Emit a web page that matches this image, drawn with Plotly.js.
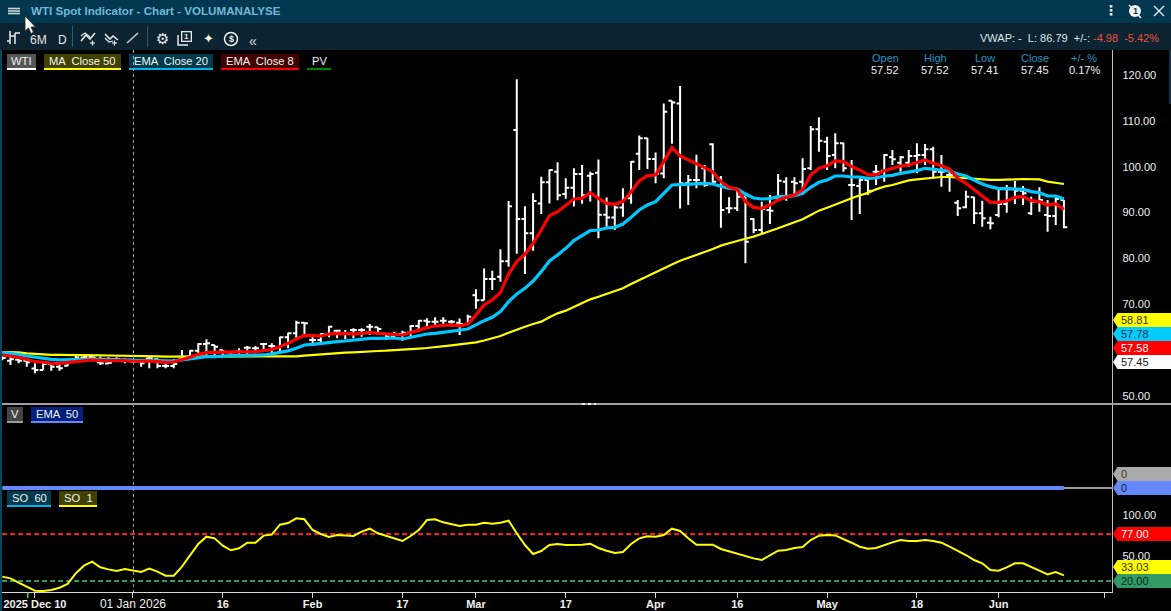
<!DOCTYPE html>
<html><head><meta charset="utf-8">
<script src="https://cdn.plot.ly/plotly-3.0.1.min.js"></script>
<style>html,body{margin:0;padding:0;background:#000;overflow:hidden}#c{width:1171px;height:611px}</style>
</head><body><div id="c"></div>
<script>
const open_=[58.5,57.7,57.9,57.71,56.0,55.7,56.98,56.4,56.6,57.9,
58.4,58.5,57.3,57.1,58.0,57.8,57.52,57.5,58.2,58.0,
56.55,56.55,58.0,58.58,59.89,61.35,61.13,60.0,59.5,59.67,
60.55,60.4,61.35,60.9,60.5,62.8,63.67,66.0,62.22,62.2,
63.5,64.25,63.67,64.4,64.4,65.13,64.98,63.6,63.0,63.5,
63.82,65.27,66.43,66.22,66.4,66.2,66.0,65.5,72.0,70.9,
75.5,76.0,79.4,108.0,88.6,85.5,92.0,96.6,98.9,94.05,
95.4,98.4,98.05,98.7,89.5,88.9,91.1,93.1,102.8,106.2,
101.7,98.5,114.4,113.8,96.4,97.1,99.65,104.88,97.47,90.93,
90.93,93.47,88.6,86.2,90.56,93.11,96.74,96.74,96.74,99.65,
108.15,105.46,102.56,105.1,96.0,95.8,97.11,98.92,99.14,102.05,
100.88,100.88,102.34,102.56,103.79,98.92,98.2,92.16,91.14,93.33,
89.84,87.8,89.47,91.87,95.07,94.78,89.84,92.38,89.47,89.26,92.74];
const high=[58.8,58.58,58.22,58.22,57.13,57.13,57.13,57.13,57.64,58.73,
58.73,58.73,58.58,58.44,58.44,58.22,57.52,57.86,58.58,58.22,
57.49,58.0,60.04,60.04,61.49,62.36,61.13,60.04,59.67,60.4,
60.91,60.91,61.49,61.49,62.95,63.82,66.43,66.0,62.95,63.67,
65.34,64.4,64.4,64.76,64.76,65.71,64.98,63.67,64.04,64.25,
65.49,66.58,66.94,67.16,67.16,66.6,66.9,67.7,73.3,77.8,
77.3,82.0,92.5,119.05,91.4,94.2,97.8,99.4,101.0,97.5,
99.65,100.4,98.9,101.6,93.3,91.65,95.3,101.25,106.8,106.3,
103.1,113.8,114.4,117.6,98.2,102.6,100.38,105.1,97.98,93.33,
95.29,93.47,88.75,92.38,93.83,98.41,97.69,97.69,101.83,108.88,
110.77,106.55,107.28,105.25,101.47,97.47,97.47,100.38,102.77,103.65,
102.34,103.65,105.1,104.96,104.37,102.56,99.29,92.74,94.78,93.47,
92.6,89.11,95.29,96.01,96.89,95.8,93.47,95.51,92.74,93.33,92.74];
const low=[57.8,56.77,57.13,56.4,54.95,55.68,55.53,55.53,56.5,57.86,
58.2,58.0,56.77,57.0,57.49,57.13,57.41,56.4,56.04,56.04,
56.04,56.04,57.86,58.0,58.58,58.95,58.58,58.58,58.44,58.58,
58.95,59.31,59.67,59.31,59.67,60.4,62.58,62.95,61.49,61.49,
62.8,62.58,62.36,62.58,62.95,63.31,63.31,62.22,62.58,62.07,
62.58,64.04,65.13,65.13,65.5,65.1,63.3,65.5,69.05,70.9,
73.1,74.9,78.2,81.0,76.6,81.7,89.7,92.0,92.7,93.0,
91.3,91.9,92.4,84.4,86.9,86.2,89.1,91.9,99.3,99.5,
96.4,97.5,105.0,90.9,91.65,95.3,95.65,96.38,86.71,89.84,
90.35,78.93,85.47,85.47,87.51,92.6,92.6,93.47,93.83,99.29,
103.28,99.29,99.65,98.92,88.38,89.69,93.83,96.01,96.74,100.38,
98.92,100.01,98.56,100.38,97.47,95.65,94.56,89.26,90.93,87.51,
86.93,86.35,88.96,89.98,91.87,91.65,89.47,90.2,85.84,87.29,86.57];
const close_=[58.3,58.0,57.71,57.35,55.68,56.98,56.4,56.04,57.4,58.4,
58.5,58.4,57.13,57.27,58.0,57.8,57.45,57.13,58.22,56.55,
56.55,56.98,58.58,59.89,61.35,61.49,60.76,59.67,59.0,59.67,
60.55,60.4,61.35,60.91,62.8,63.67,66.0,65.85,62.22,63.53,
65.13,64.25,63.67,64.4,64.4,65.1,64.6,63.0,63.5,63.82,
65.27,66.43,66.22,66.22,66.4,66.2,65.7,67.3,70.9,75.5,
75.5,79.4,91.4,88.6,85.5,92.5,96.6,99.3,93.8,95.4,
98.4,93.8,98.4,89.5,88.9,91.1,93.1,101.1,106.2,101.7,
98.5,112.0,114.0,96.4,97.1,97.1,96.0,96.74,90.56,90.93,
93.47,83.66,86.2,90.78,90.42,96.96,93.47,96.38,99.5,108.15,
105.68,102.34,105.1,99.65,96.0,97.11,94.78,98.92,102.56,101.61,
102.05,102.34,102.56,103.79,98.92,98.92,98.2,90.93,93.47,89.84,
88.75,87.66,91.87,95.07,94.78,94.2,92.38,92.74,89.26,92.96,86.78];
const ma50=[59.6,59.6,59.53,59.31,59.16,59.09,58.95,58.95,58.9,58.9,
58.88,58.86,58.85,58.84,58.83,58.82,58.81,58.8,58.73,58.66,
58.58,58.58,58.58,58.58,58.58,58.58,58.58,58.58,58.58,58.58,
58.58,58.58,58.58,58.58,58.58,58.6,58.66,58.8,58.95,59.17,
59.24,59.31,59.46,59.53,59.67,59.75,59.82,59.89,59.96,60.04,
60.18,60.33,60.47,60.62,60.84,61.05,61.27,61.49,61.7,62.1,
62.58,63.09,63.81,64.54,65.12,65.7,66.21,67.16,68.03,68.61,
69.48,70.21,71.08,71.66,72.25,72.97,73.48,74.42,75.3,76.17,
77.0,77.8,78.7,79.5,80.17,80.9,81.4,82.06,82.79,83.3,
83.88,84.3,84.75,85.3,85.99,86.57,87.22,87.87,88.53,89.47,
90.42,91.07,91.8,92.38,93.11,93.76,94.3,95.07,95.65,96.01,
96.6,97.03,97.25,97.47,97.69,97.76,97.76,97.61,97.54,97.4,
97.18,97.11,97.11,97.11,97.25,97.32,97.32,97.25,96.74,96.45,96.23];
const ema20=[59.46,59.31,59.09,58.73,58.44,58.22,58.0,57.86,57.86,57.86,
58.0,58.07,58.0,58.0,57.9,57.85,57.78,57.78,57.78,57.75,
57.71,57.64,57.86,58.07,58.44,58.58,58.58,58.73,58.8,58.8,
58.8,58.8,58.95,59.2,59.45,59.85,60.4,61.13,61.27,61.49,
61.78,61.85,62.0,62.22,62.44,62.58,62.58,62.58,62.65,62.44,
62.8,63.31,63.53,63.67,63.89,64.04,64.25,64.62,65.5,66.43,
67.16,68.4,70.57,72.25,73.48,75.08,77.12,79.44,80.75,82.2,
83.88,84.89,86.06,86.2,86.64,86.78,87.51,88.96,90.56,91.65,
92.38,94.2,96.01,96.09,96.23,96.38,96.38,96.23,95.8,95.29,
95.14,94.05,93.18,92.96,93.04,93.47,93.47,93.69,94.2,95.51,
96.6,97.11,97.98,97.98,97.76,97.76,97.47,97.54,97.98,98.12,
98.56,98.78,99.14,99.65,99.43,99.29,99.07,98.41,97.98,97.11,
96.23,95.65,95.22,95.22,95.22,95.07,94.56,94.34,93.62,93.62,92.96];
const ema8=[58.95,58.73,58.44,58.0,57.49,57.42,57.13,57.13,57.27,57.49,
57.71,57.86,57.71,57.71,57.86,57.71,57.58,57.64,57.64,57.49,
57.35,57.42,57.86,58.44,59.09,59.46,59.53,59.53,59.53,59.53,
59.6,59.67,59.89,60.18,60.76,61.49,62.44,63.24,63.16,63.09,
63.53,63.67,63.6,63.53,63.67,63.82,63.67,63.6,63.45,63.31,
63.82,64.4,64.91,65.27,65.35,65.49,65.3,65.63,67.67,69.85,
70.94,72.54,76.6,79.3,80.9,83.3,86.2,89.33,90.2,91.65,
92.96,93.1,94.34,93.1,92.0,91.8,92.4,94.56,96.9,98.05,
98.2,101.1,104.15,102.34,101.47,100.74,99.79,98.92,96.74,95.51,
95.07,92.38,91.14,90.93,91.65,92.74,93.33,93.83,94.93,98.2,
99.65,100.23,101.25,101.1,100.01,99.29,98.2,98.2,99.14,99.65,
100.16,100.38,100.96,101.47,100.74,100.23,99.5,97.47,96.38,94.93,
93.47,92.24,92.24,92.53,93.33,93.47,92.6,92.38,91.65,91.87,90.71];
const so=[25.3,23.2,18.0,13.1,8.3,7.9,9.1,11.9,16.4,29.3,
38.6,43.4,36.6,34.1,32.1,34.5,33.03,30.9,35.0,31.3,
26.5,26.5,37.4,50.7,64.9,73.7,71.7,62.8,57.2,59.6,
66.5,66.5,75.0,76.2,88.3,90.3,96.0,94.8,81.8,77.0,
73.3,75.8,75.0,74.6,79.8,83.4,77.8,74.6,71.3,68.5,
74.5,81.8,93.9,94.7,91.1,88.7,86.6,88.3,88.3,90.7,
89.5,90.7,93.1,77.8,63.6,52.7,56.3,63.6,64.8,63.6,
63.6,64.0,65.2,60.0,56.7,53.9,55.1,64.8,71.7,74.1,
73.7,75.7,83.4,80.6,71.7,64.0,64.0,64.0,58.8,55.9,
53.5,49.9,47.4,45.4,51.5,56.7,57.6,60.0,61.2,69.7,
74.9,75.7,75.3,71.3,66.4,61.6,59.2,60.0,63.6,66.8,
69.7,68.5,68.5,69.7,68.5,66.4,61.6,56.7,51.5,45.4,
41.4,33.3,32.5,36.5,41.4,41.4,37.3,32.5,28.0,30.9,26.8];
const volEma=[0,0,0,0,0,0,0,0,0,0,0,0,0,0,0,0,0,0,0,0,0,0,0,0,0,0,0,0,0,0,0,0,0,0,0,0,0,0,0,0,0,0,0,0,0,0,0,0,0,0,0,0,0,0,0,0,0,0,0,0,0,0,0,0,0,0,0,0,0,0,0,0,0,0,0,0,0,0,0,0,0,0,0,0,0,0,0,0,0,0,0,0,0,0,0,0,0,0,0,0,0,0,0,0,0,0,0,0,0,0,0,0,0,0,0,0,0,0,0,0,0,0,0,0,0,0,0,0,0,0,0];
const tickIdx=[4,16,27,38,49,58,69,80,90,101,112,122,135];
const tickLbl=['<b>2025 Dec 10</b>','<span style="font-size:12px">01 Jan 2026</span>','<b>16</b>','<b>Feb</b>','<b>17</b>','<b>Mar</b>','<b>17</b>','<b>Apr</b>','<b>16</b>','<b>May</b>','<b>18</b>','<b>Jun</b>',''];
const priceTicks=[120,110,100,90,80,70,50];
const soTicks=[100,50];
const soHigh=77, soLow=20, crossIdx=16;

const W=1171,H=611;
const idx=open_.map((_,i)=>i);
const px=x=>x/W, py=y=>1-y/H;
const FONT='"Liberation Sans",Arial,sans-serif';
const shapes=[],ann=[];
function rect(x0,y0,x1,y1,c,layer){shapes.push({type:'rect',xref:'paper',yref:'paper',x0:px(x0),x1:px(x1),y0:py(y0),y1:py(y1),fillcolor:c,line:{width:0},layer:layer||'above'});}
function seg(x0,y0,x1,y1,c,w,dash){shapes.push({type:'line',xref:'paper',yref:'paper',x0:px(x0),x1:px(x1),y0:py(y0),y1:py(y1),line:{color:c,width:w,dash:dash||'solid'},layer:'above'});}
function poly(pts,fill,lc,lw,closed){let d=pts.map((p,i)=>(i?'L':'M')+px(p[0])+','+py(p[1])).join(' ')+(closed===false?'':' Z');
 shapes.push({type:'path',xref:'paper',yref:'paper',path:d,fillcolor:fill||'rgba(0,0,0,0)',line:{color:lc||'rgba(0,0,0,0)',width:lw||0},layer:'above'});}
function ring(cx,cy,r,fill,lc,lw){shapes.push({type:'circle',xref:'paper',yref:'paper',x0:px(cx-r),x1:px(cx+r),y0:py(cy+r),y1:py(cy-r),fillcolor:fill||'rgba(0,0,0,0)',line:{color:lc||'rgba(0,0,0,0)',width:lw||0},layer:'above'});}
function txt(x,y,t,c,sz,anchor,fam){ann.push({xref:'paper',yref:'paper',x:px(x),y:py(y),text:t,showarrow:false,xanchor:anchor||'left',yanchor:'middle',font:{family:fam||FONT,size:sz||12,color:c||'#fff'},borderpad:0,borderwidth:0});}

// window chrome
rect(0,0,W,23,'#02384f');
rect(0,23,W,50,'#0c2432');
rect(0,50,2,H,'#0b4560');
rect(1169,50,W,104,'#0c3044');
seg(8,8.5,20,8.5,'#c8d4da',1.6);seg(8,11,20,11,'#c8d4da',1.6);seg(8,13.5,20,13.5,'#c8d4da',1.6);
txt(31,10.5,'<b>WTI Spot Indicator - Chart - VOLUMANALYSE</b>','#6fb8da',11.6);
txt(1111,10.5,'<b>⋮</b>','#e8e8e8',14,'center','"DejaVu Sans"');
ring(1135,11,6,'#f0f0f0');
txt(1135,11,'<b>1</b>','#02384f',9,'center');
seg(1129,5,1141,18,'#f0f0f0',1.5);
seg(1154,6,1164,16,'#d8e4ea',1.4);seg(1164,6,1154,16,'#d8e4ea',1.4);
// toolbar
seg(10,31,10,44,'#e0e0e0',1.6);seg(7,41,10,41,'#e0e0e0',1.6);seg(15,33,15,44,'#e0e0e0',1.6);seg(15,33,20,33,'#e0e0e0',1.6);seg(10,36,15,36,'#e0e0e0',1.6);
txt(30,39.5,'6M','#e6e6e6',12);txt(57.5,39.5,'D','#e6e6e6',12);
seg(72.5,26,72.5,47,'#1c5f80',1);seg(147.5,26,147.5,47,'#1c5f80',1);
poly([[81,41],[86,35],[90,39],[95,33]],null,'#e6e6e6',1.6,false);poly([[81,36],[85,33],[90,37]],null,'#e6e6e6',1.2,false);seg(90,43,95,43,'#e6e6e6',1.2);seg(92.5,40.5,92.5,45.5,'#e6e6e6',1.2);
poly([[105,34],[110,39],[113,36],[118,40]],null,'#e6e6e6',1.6,false);poly([[105,38],[109,42],[113,41]],null,'#e6e6e6',1.2,false);seg(112,43,117,43,'#e6e6e6',1.2);seg(114.5,40.5,114.5,45.5,'#e6e6e6',1.2);
seg(127,43,138,33,'#c9c9c9',1.5);
txt(162,39,'⚙','#ededed',15,'center','"DejaVu Sans"');
rect(181,31,192,42,'#e6e6e6');rect(182.3,32.3,190.7,40.7,'#0c2432');txt(186.5,36.7,'<b>1</b>','#e6e6e6',8,'center');
poly([[178,35],[178,45],[188,45]],null,'#e6e6e6',1.5,false);
txt(208,39,'✦','#f2f2f2',13,'center','"DejaVu Sans"');
ring(231,39,6.5,null,'#ededed',1.5);txt(231,39,'<b>$</b>','#ededed',9,'center');
txt(253,41,'«','#dddddd',14,'center');
// cursor
poly([[25,16],[25,31],[28.5,28],[31,33.5],[33.5,32.3],[31,27],[35.5,27]],'#ffffff','#222222',0.8);
// status
txt(1159,38.5,'<span style="color:#dfe6ea">VWAP: -  L: 86.79  +/-: </span>-4.98  -5.42%','#e8503c',11,'right');
// ohlc header
[['Open',885,'57.52'],['High',935,'57.52'],['Low',985,'57.41'],['Close',1035,'57.45'],['+/- %',1084,'0.17%']].forEach(r=>{
 txt(r[1],58.5,r[0],'#1e94c4',11,'center');txt(r[1],70,r[2],'#f0f0f0',11,'center');});
// legend chips
function chip(x0,x1,y0,bg,ul,t){ if(bg)rect(x0,y0,x1,y0+14,bg); rect(x0,y0+14,x1,y0+16,ul); txt((x0+x1)/2,y0+7,t,'#f2f2f2',11.2,'center');}
chip(7,36,54,'#555555','#ffffff','WTI');
chip(44,121,54,'#424200','#ffff00','MA  Close 50');
chip(129,213,54,'#003a4c','#00b4ec','EMA  Close 20');
chip(221,299,54,'#400000','#ff0000','EMA  Close 8');
chip(307,331,54,null,'#008800','PV');
chip(7,23,407,'#444444','#9a9a9a','V');
chip(31,83,407,'#00207c','#6688ff','EMA  50');
chip(7,51,491,'#003a4c','#00b4ec','SO  60');
chip(59,97,491,'#424200','#ffff00','SO  1');
// separators + axis rule
seg(1112.5,50,1112.5,592,'#bdbdbd',1);
seg(2,404,W,404,'#a0a0a0',2);
seg(582,404,596,404,'#eeeeee',2,'dot');
seg(1064,488,1113,488,'#9a9a9a',2);
seg(133.5,50,133.5,592,'#a0a0a0',1,'dot');
rect(27,592.5,28.5,598,'#44dd44');
// dashed SO levels, from the values
[[soHigh,'#ff1a1a'],[soLow,'#339966']].forEach(l=>shapes.push({type:'line',xref:'x',yref:'y3',x0:-1,x1:136,y0:l[0],y1:l[0],line:{color:l[1],width:2,dash:'5px,3px'},layer:'below'}));
// value tags
function tag(y,bg,t,tc){const h=7;poly([[1113,y],[1117.5,y-h],[W,y-h],[W,y+h],[1117.5,y+h]],bg);txt(1121,y,t,tc,11);}
tag(320,'#ffff00',ma50[crossIdx].toFixed(2),'#3a2a00');
tag(334,'#00ccff',ema20[crossIdx].toFixed(2),'#003040');
tag(348,'#ff0000',ema8[crossIdx].toFixed(2),'#ffffff');
tag(362,'#ffffff',close_[crossIdx].toFixed(2),'#101010');
tag(474,'#aaaaaa','0','#4a3a2a');
tag(488,'#6688ff','0','#101a40');
tag(534,'#ff0000',soHigh.toFixed(2),'#ffffff');
tag(567,'#ffff00',so[crossIdx].toFixed(2),'#3a3000');
tag(581,'#339966',soLow.toFixed(2),'#0a2a1a');

const line=(y,c,w,ya)=>({type:'scatter',mode:'lines',x:idx,y:y,yaxis:ya,line:{color:c,width:w,shape:'linear'},hoverinfo:'skip'});
const traces=[
 {type:'ohlc',x:idx,open:open_,high:high,low:low,close:close_,yaxis:'y',tickwidth:0.42,
  increasing:{line:{color:'#ffffff',width:2}},decreasing:{line:{color:'#ffffff',width:2}},hoverinfo:'skip'},
 line(ma50,'#ffff00',2.2,'y'),line(ema20,'#00c8ff',3.2,'y'),line(ema8,'#ff0000',3.2,'y'),
 line(volEma,'#6688ff',4,'y2'),
 line(so,'#ffff00',2,'y3')
];
const tickfont={family:FONT,size:11,color:'#f0f0f0'};
const layout={width:W,height:H,margin:{l:0,r:0,t:0,b:0,pad:0},paper_bgcolor:'#000',plot_bgcolor:'#000',showlegend:false,
 xaxis:{domain:[0,1112.5/W],range:[-0.28,135.95],anchor:'y3',tickmode:'array',tickvals:tickIdx,ticktext:tickLbl,ticks:'outside',ticklen:5,tickwidth:1,tickcolor:'#d8d8d8',
  ticklabelstandoff:-3,showgrid:false,zeroline:false,showline:true,linecolor:'#d8d8d8',linewidth:1,tickfont:tickfont,tickangle:0,rangeslider:{visible:false},fixedrange:true},
 yaxis:{domain:[1-404/H,1-50/H],range:[48.26,125.45],side:'right',anchor:'x',tickmode:'array',tickvals:priceTicks,ticktext:priceTicks.map(v=>v.toFixed(2)),ticks:'',
  ticklabelstandoff:9,showgrid:false,zeroline:false,showline:false,tickfont:tickfont,fixedrange:true},
 yaxis2:{domain:[1-490/H,1-405/H],range:[-2,83],side:'right',anchor:'x',showticklabels:false,ticks:'',showgrid:false,zeroline:false,showline:false,fixedrange:true},
 yaxis3:{domain:[1-592/H,1-490/H],range:[6.67,130.3],side:'right',anchor:'x',tickmode:'array',tickvals:soTicks,ticktext:soTicks.map(v=>v.toFixed(2)),ticks:'',
  ticklabelstandoff:9,showgrid:false,zeroline:false,showline:false,tickfont:tickfont,fixedrange:true},
 shapes:shapes,annotations:ann};
Plotly.newPlot('c',traces,layout,{displayModeBar:false,staticPlot:true});
</script></body></html>
